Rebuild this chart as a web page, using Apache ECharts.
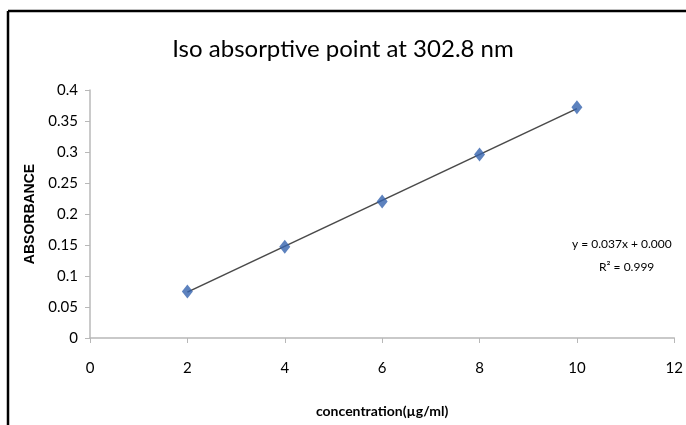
<!DOCTYPE html>
<html>
<head>
<meta charset="utf-8">
<script src="https://cdn.jsdelivr.net/npm/echarts@6/dist/echarts.min.js"></script>
<style>html,body{margin:0;padding:0;background:#fff}#c{width:686px;height:425px}</style>
</head>
<body>
<div id="c"></div>
<script>
var titleText = 'Iso absorptive point at 302.8 nm';
var xName = 'concentration(µg/ml)';
var yName = 'ABSORBANCE';
var concentration = [2, 4, 6, 8, 10];
var absorbance = [0.075, 0.147, 0.220, 0.296, 0.372];
var trendX = [2, 10];
var trendY = [0.074, 0.370];
var equationText = 'y = 0.037x + 0.000';
var r2Text = 'R² = 0.999';

var FONT = 'Lato, "Liberation Sans", sans-serif';
var chart = echarts.init(document.getElementById('c'), null, {renderer: 'canvas'});
chart.setOption({
  animation: false,
  backgroundColor: '#fff',
  title: {
    text: titleText, left: 'center', top: 32,
    textStyle: {fontFamily: FONT, fontSize: 24, fontWeight: 'normal', color: '#000'}
  },
  grid: {left: 90, right: 5, top: 90, bottom: 87},
  xAxis: {
    type: 'value', min: 0, max: 12, interval: 2,
    name: xName, nameLocation: 'middle', nameGap: 66,
    nameTextStyle: {fontFamily: FONT, fontSize: 14, fontWeight: 'bold', color: '#000'},
    axisLine: {show: true, lineStyle: {color: '#b8b8b8', width: 1.5}},
    axisTick: {show: true, length: 5, lineStyle: {color: '#b8b8b8'}},
    axisLabel: {fontFamily: FONT, fontSize: 15, color: '#000', margin: 23},
    splitLine: {show: false}
  },
  yAxis: {
    type: 'value', min: 0, max: 0.4, interval: 0.05,
    name: yName, nameLocation: 'middle', nameGap: 53,
    nameTextStyle: {fontFamily: '"Liberation Sans", Arial, sans-serif', fontSize: 14, fontWeight: 'bold', color: '#000'},
    axisLine: {show: true, lineStyle: {color: '#b8b8b8', width: 1.5}},
    axisTick: {show: true, length: 5, lineStyle: {color: '#b8b8b8'}},
    axisLabel: {fontFamily: FONT, fontSize: 15, color: '#000', margin: 12,
      formatter: function (v) { return String(+v.toFixed(2)); }},
    splitLine: {show: false}
  },
  series: [
    {
      type: 'line', data: trendX.map(function (x, i) { return [x, trendY[i]]; }),
      symbol: 'none', lineStyle: {color: '#4a4a4a', width: 1.6}, z: 2
    },
    {
      type: 'scatter', data: concentration.map(function (x, i) { return [x, absorbance[i]]; }),
      symbol: 'diamond', symbolSize: [11, 14],
      itemStyle: {color: '#3463ae'}, z: 3
    }
  ],
  graphic: [
    {type: 'line', shape: {x1: 8, y1: 11, x2: 686, y2: 11}, style: {stroke: '#000', lineWidth: 2.5}},
    {type: 'line', shape: {x1: 8, y1: 11, x2: 8, y2: 425}, style: {stroke: '#000', lineWidth: 2.5}},
    {type: 'text', left: 572, top: 238, style: {text: equationText, font: '12px ' + FONT, fill: '#000'}},
    {type: 'text', left: 599, top: 261, style: {text: r2Text, font: '12px ' + FONT, fill: '#000'}}
  ]
});
</script>
</body>
</html>
